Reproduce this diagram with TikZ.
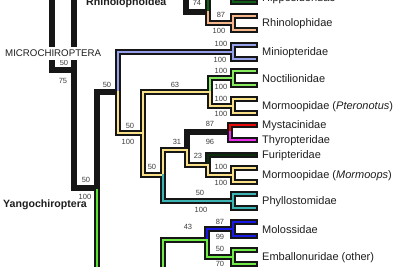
\documentclass[tikz,border=0pt]{standalone}
\usepackage{fontspec}
\setmainfont{Liberation Sans}
\usepackage{tikz}
\usetikzlibrary{positioning, calc}

\definecolor{edgeblack}{RGB}{22,22,22}
\definecolor{hipgreen}{RGB}{15,95,25}
\definecolor{rhiorange}{RGB}{245,182,140}
\definecolor{minblue}{RGB}{150,160,235}
\definecolor{nocgreen}{RGB}{135,235,95}
\definecolor{moryellow}{RGB}{250,225,135}
\definecolor{mysred}{RGB}{235,10,10}
\definecolor{thymagenta}{RGB}{235,45,235}
\definecolor{furgreen}{RGB}{12,45,12}
\definecolor{phyteal}{RGB}{60,180,180}
\definecolor{molblue}{RGB}{25,25,230}
\definecolor{embgreen}{RGB}{110,235,70}
\definecolor{yangreen}{RGB}{90,225,50}
\definecolor{numgray}{RGB}{60,60,60}
\definecolor{txtgray}{RGB}{30,30,30}

% parent / child / colour
\newcommand\batedges{rootL/micro/edgeblack, micro/microTop/edgeblack,
	micro/yango/edgeblack, yango/yangoBot/yangreen, yango/nMin/edgeblack,
	rhinoTop/nRhino/edgeblack, nRhino/fHip/hipgreen, nRhino/fRhi/rhiorange,
	nMin/fMin/minblue, nMin/nNoct/moryellow, nNoct/nPter/moryellow,
	nPter/fNoc/nocgreen, nPter/fPte/moryellow, nNoct/nPhyl/moryellow,
	nPhyl/nMyst/moryellow, nMyst/nThyr/edgeblack, nThyr/tMys/mysred,
	nThyr/tThy/thymagenta, nMyst/nFuri/moryellow, nFuri/tFur/furgreen,
	nFuri/fMor/moryellow, nPhyl/fPhy/phyteal, emBot/nMol/embgreen,
	nMol/fMol/molblue, nMol/fEmb/embgreen}
% fork / colour
\newcommand\batforks{fHip/hipgreen, fRhi/rhiorange, fMin/minblue, fNoc/nocgreen,
	fPte/moryellow, fMor/moryellow, fPhy/phyteal, fMol/molblue, fEmb/embgreen}

\begin{document}
\begin{tikzpicture}[x=1pt, y=-1pt,
		line cap=rect, line join=miter,
		edgeline/.style={draw=edgeblack, line width=5.6pt},
		edgefill/.style={draw=#1, line width=2.8pt},
		sup/.style={font=\fontsize{7.5}{8}\selectfont, text=numgray, inner sep=0pt},
		fam/.style={font=\fontsize{11}{12}\selectfont, text=txtgray, inner sep=0pt,
			anchor=west, yshift=-1pt},
		clade/.style={font=\bfseries\fontsize{10.6}{12}\selectfont, text=txtgray,
			inner sep=0pt, anchor=base west},
		]
		\useasboundingbox (0,0) rectangle (400,267);
		\clip (0,0) rectangle (400,267);
		
		%% ── NODES ──────────────────────────────────────────────
		\coordinate (rootL)    at (52,-8);
		\coordinate (microTop) at (74,-8);
		\coordinate (micro)    at (74,70);
		\coordinate (yango)    at (97,188);
		\coordinate (yangoBot) at (97,285);
		\coordinate (rhinoTop) at (186,-8);
		\coordinate (nRhino)   at (208,12);
		\coordinate (nMin)     at (118,92);
		\coordinate (nNoct)    at (143,133);
		\coordinate (nPter)    at (210,92);
		\coordinate (nPhyl)    at (163,175);
		\coordinate (nMyst)    at (187,150);
		\coordinate (nThyr)    at (230,132);
		\coordinate (nFuri)    at (208,165);
		\coordinate (emBot)    at (163,285);
		\coordinate (nMol)     at (207,240);
		% forks and single tips
		\coordinate (fHip) at (233,-5);
		\coordinate (fRhi) at (233,23);
		\coordinate (fMin) at (233,52);
		\coordinate (fNoc) at (233,78);
		\coordinate (fPte) at (233,106);
		\coordinate (tMys) at (255,125);
		\coordinate (tThy) at (255,140);
		\coordinate (tFur) at (255,155);
		\coordinate (fMor) at (233,175);
		\coordinate (fPhy) at (233,201);
		\coordinate (fMol) at (233,229);
		\coordinate (fEmb) at (233,257);
		
		%% ── BRANCHES: outline first, then colour ────────────────
		\foreach \from/\to/\col in \batedges
		\draw[edgeline] (\from) |- (\to);
		\foreach \f/\col in \batforks
		\draw[edgeline] ($(\f)+(22,-7)$) -| (\f) |- ($(\f)+(22,7)$);
		\foreach \from/\to/\col in \batedges
		\draw[edgefill=\col] (\from) |- (\to);
		\foreach \f/\col in \batforks
		\draw[edgefill=\col] ($(\f)+(22,-7)$) -| (\f) |- ($(\f)+(22,7)$);
		
		%% ── SUPPORT VALUES ─────────────────────────────────────
		\node[sup] (sMicroUp) at (64,63)  {50};
		\node[sup] (sMicroDn) at (63,81)  {75};
		\node[sup] (sYangoUp) at (86,180) {50};
		\node[sup] (sYangoDn) at (85,197) {100};
		\node[sup] (sRhino)   at (197,3)  {74};
		\node[sup] (sRhiUp)   at (221,15) {87};
		\node[sup] (sRhiDn)   at (219,31) {100};
		\node[sup] (sMinUp)   at (221,44) {100};
		\node[sup] (sMinDn)   at (220,60) {100};
		\node[sup] (sMin)     at (107,85) {50};
		\node[sup] (sNoctUp)  at (130,126) {50};
		\node[sup] (sNoctDn)  at (128,142) {100};
		\node[sup] (sPter)    at (175,85) {63};
		\node[sup] (sNocUp)   at (221,71) {100};
		\node[sup] (sNocDn)   at (221,87) {100};
		\node[sup] (sPteUp)   at (221,99) {100};
		\node[sup] (sPteDn)   at (221,114) {100};
		\node[sup] (sThyrUp)  at (210,124) {87};
		\node[sup] (sThyrDn)  at (210,142) {96};
		\node[sup] (sMyst)    at (177,142) {31};
		\node[sup] (sPhyl)    at (152,167) {50};
		\node[sup] (sFuri)    at (198,156) {23};
		\node[sup] (sMorUp)   at (221,167) {100};
		\node[sup] (sMorDn)   at (221,183) {100};
		\node[sup] (sPhyUp)   at (200,193) {50};
		\node[sup] (sPhyDn)   at (201,210) {100};
		\node[sup] (sMol)     at (188,227) {43};
		\node[sup] (sMolUp)   at (220,222) {87};
		\node[sup] (sMolDn)   at (220,237) {99};
		\node[sup] (sEmbUp)   at (220,249) {50};
		\node[sup] (sEmbDn)   at (220,264) {70};
		
		%% ── FAMILIES ───────────────────────────────────────────
		\node[fam, right=29pt of fHip, yshift=-3pt] (lHip) {Hipposideridae};
		\node[fam, right=29pt of fRhi] (lRhi) {Rhinolophidae};
		\node[fam, right=29pt of fMin] (lMin) {Miniopteridae};
		\node[fam, right=29pt of fNoc] (lNoc) {Noctilionidae};
		\node[fam, right=29pt of fPte] (lPte) {Mormoopidae (\textit{Pteronotus})};
		\node[fam, right=7pt of tMys]  (lMys) {Mystacinidae};
		\node[fam, right=7pt of tThy]  (lThy) {Thyropteridae};
		\node[fam, right=7pt of tFur]  (lFur) {Furipteridae};
		\node[fam, right=29pt of fMor] (lMor) {Mormoopidae (\textit{Mormoops})};
		\node[fam, right=29pt of fPhy] (lPhy) {Phyllostomidae};
		\node[fam, right=29pt of fMol] (lMol) {Molossidae};
		\node[fam, right=29pt of fEmb] (lEmb) {Emballonuridae (other)};
		
		%% ── CLADES ─────────────────────────────────────────────
		\node[clade] (lRhinoid) at (86,5.5) {Rhinolophoidea};
		\node[clade] (lYango)   at (3,208)  {Yangochiroptera};
		\node[anchor=base west, fill=white, inner xsep=1pt, inner ysep=3pt,
		font=\fontsize{9.7}{11}\selectfont, text=txtgray] (lMicro) at (4,56.5) {MICROCHIROPTERA};
		
	\end{tikzpicture}
\end{document}
